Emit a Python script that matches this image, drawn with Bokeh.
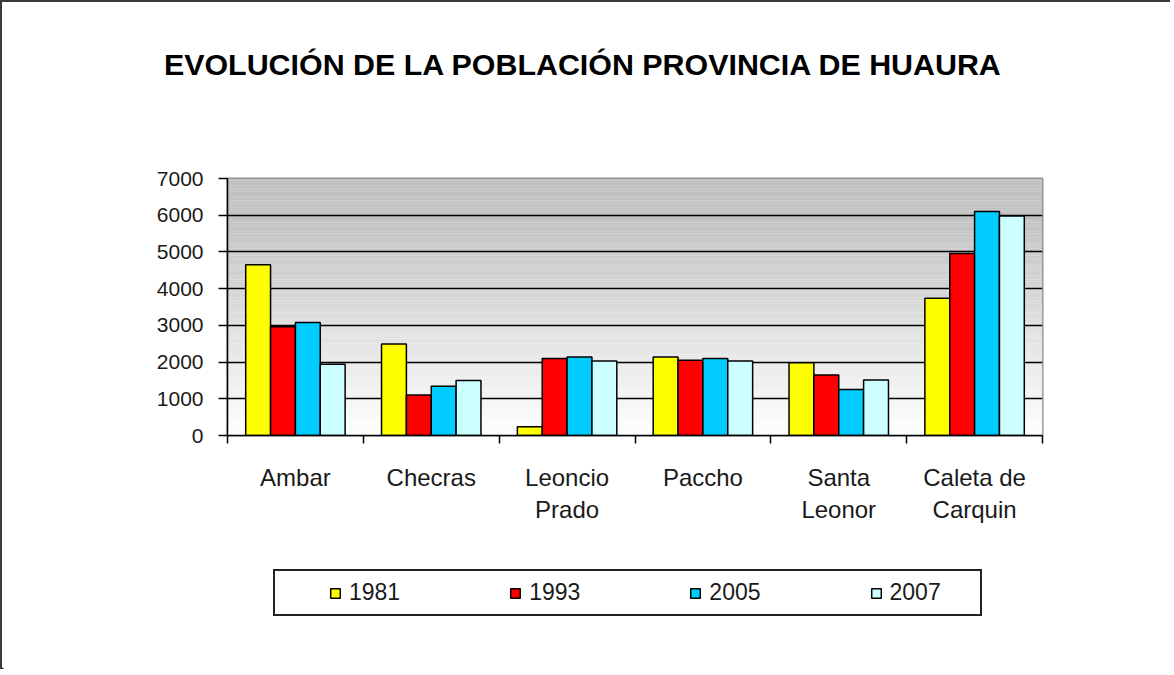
import numpy as np
from bokeh.plotting import figure
from bokeh.layouts import column
from bokeh.models import Range1d, FixedTicker, LinearAxis, Legend, LegendItem, Grid, Label
from bokeh.embed import file_html
from bokeh.resources import INLINE

# ---------------- data ----------------
categories = ["Ambar", "Checras", "Leoncio Prado", "Paccho", "Santa Leonor", "Caleta de Carquin"]
category_labels = ["Ambar", "Checras", "Leoncio\nPrado", "Paccho", "Santa\nLeonor", "Caleta de\nCarquin"]
years = ["1981", "1993", "2005", "2007"]
pop_1981 = [4650, 2490, 240, 2140, 1980, 3740]
pop_1993 = [2960, 1100, 2100, 2050, 1650, 4960]
pop_2005 = [3080, 1340, 2140, 2100, 1250, 6100]
pop_2007 = [1940, 1500, 2030, 2030, 1510, 5980]
y_ticks = [0, 1000, 2000, 3000, 4000, 5000, 6000, 7000]
title_text = "EVOLUCIÓN DE LA POBLACIÓN PROVINCIA DE HUAURA"

# ---------------- style ----------------
series = [pop_1981, pop_1993, pop_2005, pop_2007]
colors = ["#FFFF00", "#FF0000", "#00CCFF", "#CCFFFF"]
FONT = "Liberation Sans"
TXT = "#1a1a1a"
EDGE = "2px solid #3a3a3a"
W = 1170
H_TITLE, H_MAIN, H_LEG = 130, 410, 129


def no_align(f):
    try:
        f.frame_align = False
    except Exception:
        pass


def blank(height, styles):
    f = figure(width=W, height=height, output_backend="svg", toolbar_location=None,
               x_range=Range1d(0, W), y_range=Range1d(0, height),
               x_axis_type=None, y_axis_type=None, min_border=0)
    f.outline_line_color = None
    f.background_fill_color = "white"
    f.border_fill_color = "white"
    f.grid.visible = False
    f.styles = styles
    no_align(f)
    return f


# ---------------- title ----------------
pt = blank(H_TITLE, {"border-left": EDGE, "border-top": EDGE})
pt.add_layout(Label(x=581, y=H_TITLE - 61, text=title_text, text_align="center",
                    text_baseline="middle", text_font=FONT, text_font_style="bold",
                    text_font_size="30.4px", text_color="black"))

# ---------------- main chart ----------------
n = len(categories)
p = figure(width=W, height=H_MAIN, output_backend="svg", toolbar_location=None,
           x_range=Range1d(0, n), y_range=Range1d(0, 7000),
           x_axis_type=None, y_axis_type=None,
           min_border_left=225, min_border_right=130,
           min_border_top=48, min_border_bottom=105)
p.styles = {"border-left": EDGE}
no_align(p)
p.background_fill_color = "white"
p.border_fill_color = "white"
p.outline_line_color = "#8c8c8c"
p.outline_line_width = 2

# gradient background of the plot area (style only)
step = 50
ys = np.arange(0, 7000, step)
t = (ys + step / 2) / 7000.0
g = 255 - 63 * np.clip(t / 0.85, 0, 1)
grad_cols = ["#%02x%02x%02x" % (int(v), int(v), int(v)) for v in g]
bg = p.quad(left=0, right=n, bottom=ys, top=ys + step + 2, fill_color=grad_cols, line_color=None)
bg.level = "image"

yaxis = LinearAxis(ticker=FixedTicker(ticks=y_ticks))
yaxis.axis_line_color = "black"
yaxis.axis_line_width = 1.5
yaxis.major_tick_out = 9
yaxis.major_tick_in = 0
yaxis.major_tick_line_width = 1.5
yaxis.minor_tick_line_color = None
yaxis.major_label_standoff = 15
yaxis.major_label_text_font = FONT
yaxis.major_label_text_font_size = "21px"
yaxis.major_label_text_color = TXT
p.add_layout(yaxis, "left")

centers = np.arange(n) + 0.5
bounds = list(np.arange(n + 1).astype(float))
xaxis = LinearAxis(ticker=FixedTicker(ticks=list(centers), minor_ticks=bounds))
xaxis.axis_line_color = "black"
xaxis.axis_line_width = 1.5
xaxis.major_tick_line_color = None
xaxis.major_tick_out = 0
xaxis.major_tick_in = 0
xaxis.minor_tick_line_color = "black"
xaxis.minor_tick_line_width = 1.5
xaxis.minor_tick_out = 8
xaxis.minor_tick_in = 0
xaxis.major_label_standoff = 20
xaxis.major_label_text_font = FONT
xaxis.major_label_text_font_size = "24px"
xaxis.major_label_text_color = TXT
xaxis.major_label_overrides = {float(c): lab for c, lab in zip(centers, category_labels)}
p.add_layout(xaxis, "below")

grid = Grid(dimension=1, ticker=FixedTicker(ticks=y_ticks[1:-1]))
grid.grid_line_color = "black"
grid.grid_line_width = 1.3
p.add_layout(grid)

w = 0.183
offsets = [-1.5 * w, -0.5 * w, 0.5 * w, 1.5 * w]
for yr, vals, col, off in zip(years, series, colors, offsets):
    p.vbar(x=centers + off, top=vals, bottom=0, width=w,
           fill_color=col, line_color="black", line_width=1.5)

# ---------------- legend ----------------
pl = blank(H_LEG, {"border-left": EDGE})
items = []
for yr, col in zip(years, colors):
    # legend key swatch only (placed outside the visible range)
    r = pl.vbar(x=[-1000], top=[1], bottom=0, width=1, fill_color=col,
                line_color="black", line_width=1.5)
    items.append(LegendItem(label=yr, renderers=[r]))

legend = Legend(items=items, orientation="horizontal", location=(271, 53))
try:
    legend.padding = (54, 39, 8, 8)
except Exception:
    legend.padding = 8
legend.margin = 0
legend.glyph_width = 12
legend.glyph_height = 12
legend.label_standoff = 8
legend.label_width = 51
legend.spacing = 109
legend.label_text_font = FONT
legend.label_text_font_size = "23px"
legend.label_text_color = TXT
legend.border_line_color = "#222222"
legend.border_line_alpha = 1.0
legend.border_line_width = 2
legend.background_fill_color = "white"
legend.background_fill_alpha = 1
pl.add_layout(legend, "center")

layout = column(pt, p, pl, spacing=0)
open("out.html", "w").write(file_html(layout, INLINE))
